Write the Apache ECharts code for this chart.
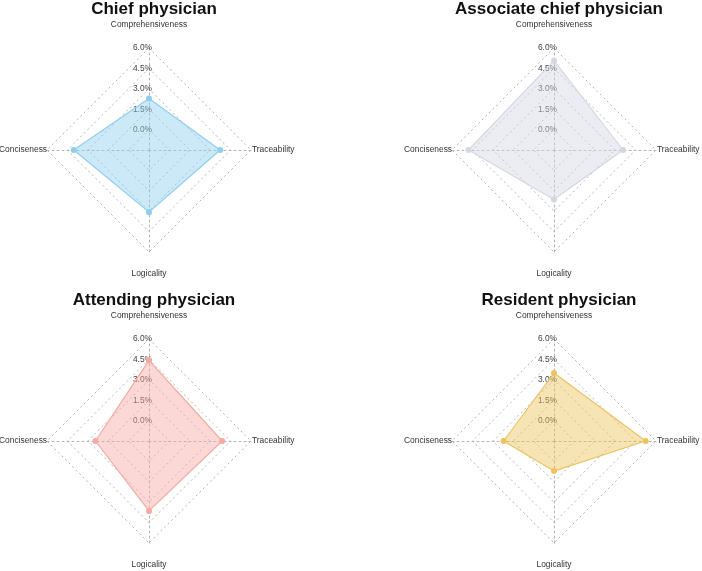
<!DOCTYPE html>
<html lang="en">
<head>
	<meta charset="UTF-8">
	<title>Radar</title>
	<style>
		html, body { margin: 0; padding: 0; background: #fff; }
	</style>
</head>
<body>
	<div id="main" style="width: 702px;height: 571px"></div>
	<script src="https://cdn.jsdelivr.net/npm/echarts@6/dist/echarts.min.js"></script>
	<script>
		// values in %, order: Comprehensiveness, Traceability, Logicality, Conciseness
		var dims = ['Comprehensiveness', 'Traceability', 'Logicality', 'Conciseness']
		var groups = ['Chief physician', 'Associate chief physician', 'Attending physician', 'Resident physician']
		var chief = [2.29, 3.73, 3.07, 4.03]
		var associate = [5.07, 3.58, 2.14, 4.79]
		var attending = [4.43, 3.88, 3.64, 2.44]
		var resident = [3.50, 5.24, 0.71, 2.21]
		var tickLabels = ['0.0%', '1.5%', '3.0%', '4.5%', '6.0%']
		var axisMin = -1.5, axisMax = 6

		var values = [chief, associate, attending, resident]
		var colors = ['#8ECFF0', '#D4D7E2', '#F6A9A1', '#EEC35C']
		var centers = [[149, 150], [554, 150], [149, 441], [554, 441]]
		var font = 'Liberation Sans, Arial, sans-serif'

		// echarts goes counterclockwise from the top
		var order = [0, 3, 2, 1]
		var gaps = [19, 1, 18, 0]

		var myChart = echarts.init(document.getElementById('main'));

		var option = { title: [], radar: [], series: [] }
		groups.forEach(function (g, k) {
			option.title.push({
				text: g,
				left: centers[k][0], top: centers[k][1] - 154,
				textAlign: 'center',
				textStyle: { fontFamily: font, fontSize: 17, fontWeight: 'bold', color: '#111' }
			})
			option.radar.push({
				center: centers[k],
				radius: 102,
				shape: 'polygon',
				splitNumber: 5,
				indicator: order.map(function (i) {
					var ind = { name: dims[i], min: axisMin, max: axisMax, nameGap: gaps[i] }
					if (i === 0) {
						ind.axisLabel = {
							show: true, margin: -3, fontSize: 8.4, fontFamily: font, color: '#444',
							formatter: function (v) {
								var idx = Math.round(v / 1.5)
								return v < -0.01 ? '' : tickLabels[idx]
							}
						}
					}
					return ind
				}),
				axisName: { color: '#333', fontSize: 8.4, fontFamily: font },
				axisLine: { lineStyle: { color: '#b5b5b5', type: [2, 3], width: 1 } },
				splitLine: { lineStyle: { color: '#b5b5b5', type: [2, 3], width: 1 } },
				splitArea: { show: false },
				axisLabel: { show: false }
			})
			option.series.push({
				type: 'radar',
				radarIndex: k,
				symbol: 'circle',
				symbolSize: 6,
				lineStyle: { color: colors[k], width: 1.2 },
				itemStyle: { color: colors[k] },
				areaStyle: { color: colors[k], opacity: 0.45 },
				data: [{ name: g, value: order.map(function (i) { return values[k][i] }) }]
			})
		})

		myChart.setOption(option);
	</script>
</body>
</html>
